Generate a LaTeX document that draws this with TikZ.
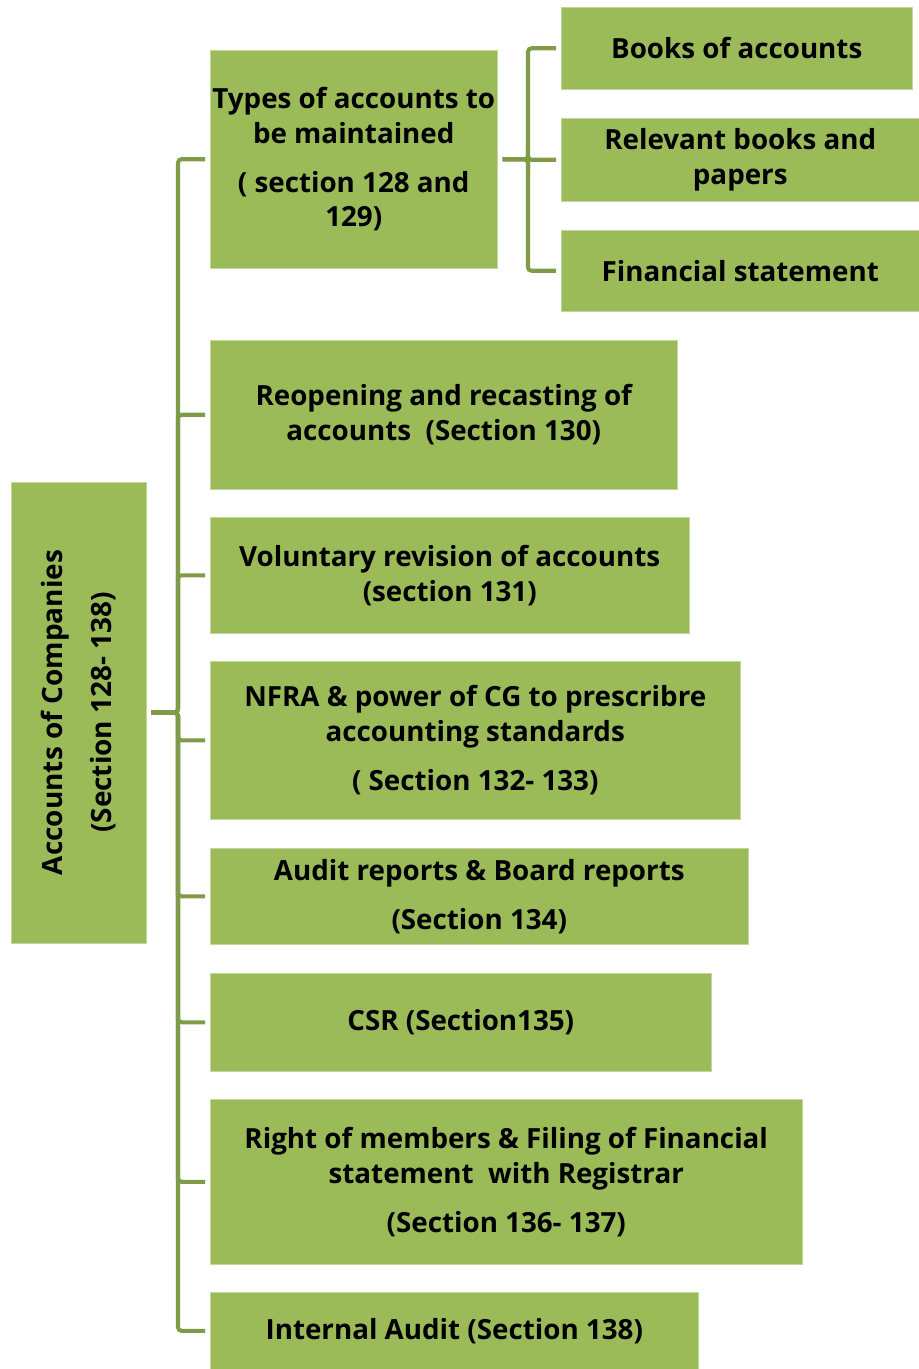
\documentclass[tikz,border=0pt]{standalone}
\usepackage{fontspec}
\setmainfont{Open Sans}
\usetikzlibrary{positioning}
\definecolor{boxgreen}{HTML}{9BBB59}
\definecolor{linegreen}{HTML}{7F9A48}

\begin{document}
\begin{tikzpicture}[x=0.02cm, y=-0.02cm,
  box/.style={fill=boxgreen, draw=boxgreen!60!white, line width=0.3pt, align=center, inner sep=0pt,
    anchor=north west, font=\bfseries\fontsize{15.8}{19.8}\selectfont},
  size/.style 2 args={minimum width=#1*0.02cm, minimum height=#2*0.02cm},
  link/.style={draw=linegreen, line width=2.3pt, rounded corners=2pt,
    shorten <=5*0.02cm, shorten >=5*0.02cm}]
  \useasboundingbox (0,0) rectangle (919,1369);

  \node[box, size={461}{135}, rotate=90, anchor=center, font=\bfseries\fontsize{15.9}{28}\selectfont]
    (acc) at (78.5,712.5) {Accounts of Companies\\(Section 128- 138)};

  % first level
  \node[box, size={287}{218}] (types) at (210,50) {Types of accounts to\\be maintained\\[8pt]( section 128 and\\129)};
  \node[box, size={467}{149}] (reopen) at (210,340) {Reopening and recasting of\\accounts\ \ (Section 130)};
  \node[box, size={479}{116}] (revise) at (210,517) {Voluntary revision of accounts\\(section 131)};
  \node[box, size={530}{158}] (nfra) at (210,661) {NFRA \& power of CG to prescribre\\accounting standards\\[8pt]( Section 132- 133)};
  \node[box, size={538}{96}] (audit) at (210,848) {Audit reports \& Board reports\\[8pt](Section 134)};
  \node[box, size={501}{98}] (csr) at (210,973) {CSR (Section135)};
  \node[box, size={592}{165}] (members) at (210,1099) {Right of members \& Filing of Financial\\statement\ \ with Registrar\\[8pt](Section 136- 137)};
  \node[box, size={488}{77}] (internal) at (210,1292) {Internal Audit (Section 138)};

  % second level
  \node[box, size={351}{82}] (books) at (561,7) {Books of accounts};
  \node[box, size={358}{83}] (papers) at (561,118) {Relevant books and\\papers};
  \node[box, size={358}{81}] (finstat) at (561,230) {Financial statement};

  \coordinate (trunk) at (178,0);
  \coordinate (subtrunk) at (528,0);
  \foreach \c in {types,reopen,revise,nfra,audit,csr,members,internal}
    \draw[link] (acc.south) -- (trunk |- acc.south) |- (\c.west);
  \foreach \c in {books,papers,finstat}
    \draw[link] (types.east) -- (subtrunk |- types.east) |- (\c.west);
\end{tikzpicture}
\end{document}
